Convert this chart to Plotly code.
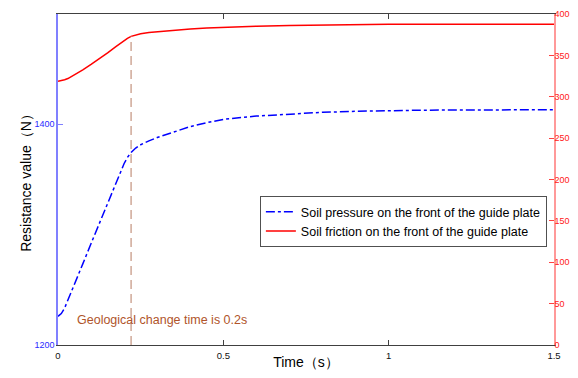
import plotly.graph_objects as go

time_s = [0, 0.01, 0.02, 0.03, 0.05, 0.075, 0.1, 0.125, 0.15, 0.175, 0.19, 0.2, 0.21, 0.221,
          0.235, 0.25, 0.275, 0.3, 0.35, 0.4, 0.45, 0.5, 0.6, 0.7, 0.8, 0.9, 1.0, 1.1, 1.2,
          1.3, 1.4, 1.5]
soil_pressure = [1226, 1228.5, 1233.5, 1240.5, 1255, 1273.5, 1292, 1310.5, 1329, 1347.5, 1358,
                 1364.5, 1370, 1374.5, 1378.5, 1381.5, 1385, 1388, 1393, 1398, 1401.5, 1404.5,
                 1407.5, 1409.5, 1410.9, 1411.8, 1412.5, 1412.8, 1413, 1413.1, 1413.2, 1413.2]
soil_friction = [318.6, 319.2, 320.5, 322, 326.5, 332.5, 339, 345.5, 353, 360.5, 365, 368,
                 370.5, 373, 375, 376.2, 377.5, 378.5, 380.3, 381.8, 383, 384, 385.3, 386.2,
                 386.8, 387.2, 387.5, 387.6, 387.7, 387.7, 387.7, 387.7]
change_time = [0.221, 0.221]
change_line = [0, 373]

x_ticks = [0, 0.5, 1, 1.5]
x_tick_text = ["0", "0.5", "1", "1.5"]
left_ticks = [1200, 1400]
right_ticks = [0, 50, 100, 150, 200, 250, 300, 350, 400]

names = ["Soil pressure on the front of the guide plate",
         "Soil friction on the front of the guide plate"]
annotation_text = "Geological change time is 0.2s"

fig = go.Figure()
fig.add_trace(go.Scatter(x=time_s, y=soil_pressure, name=names[0], mode="lines",
                         line=dict(color="#0000ff", width=1.5, dash="dashdot"), yaxis="y"))
fig.add_trace(go.Scatter(x=time_s, y=soil_friction, name=names[1], mode="lines",
                         line=dict(color="#ff0000", width=1.5), yaxis="y2"))
fig.add_trace(go.Scatter(x=change_time, y=change_line, mode="lines", showlegend=False,
                         line=dict(color="#c4937e", width=1.2, dash="9px,5px"), yaxis="y2"))

font = "Liberation Sans, Arial, sans-serif"
fig.update_layout(
    width=562, height=362,
    margin=dict(l=50, r=16, t=6, b=25, autoexpand=False),
    paper_bgcolor="white", plot_bgcolor="white",
    font=dict(family=font, size=9, color="black"),
    showlegend=True,
    legend=dict(x=0.407, y=0.450, xanchor="left", yanchor="top",
                bordercolor="#505050", borderwidth=1, bgcolor="white",
                font=dict(size=12.5, color="black"), tracegroupgap=0,
                itemwidth=30),
    xaxis=dict(range=[0, 1.5], tickvals=x_ticks, ticktext=x_tick_text,
               ticks="inside", ticklen=5, tickcolor="#404040", automargin=False,
               showline=True, linecolor="#404040", linewidth=1, mirror="ticks",
               showgrid=False, zeroline=False, ticklabeloverflow="allow",
               ticklabelstandoff=2,
               tickfont=dict(size=9.5, color="#111111"),
               title=dict(text="Time（s）", font=dict(size=14, color="black"), standoff=0)),
    yaxis=dict(range=[1200, 1500], tickvals=left_ticks, ticks="inside", ticklen=5,
               tickcolor="#8080ff", showline=True, linecolor="#8080ff", linewidth=1.5,
               showgrid=False, zeroline=False, automargin=False, ticklabeloverflow="allow",
               tickfont=dict(size=9, color="#2a2aff"),
               title=dict(text="Resistance value（N）", font=dict(size=14, color="black"),
                          standoff=0)),
    yaxis2=dict(range=[0, 400], tickvals=right_ticks, overlaying="y", side="right",
                anchor="x", ticks="inside", ticklen=5, tickcolor="#ff4040",
                showline=True, linecolor="#ff9999", linewidth=1.5, automargin=False,
                showgrid=False, zeroline=False, ticklabeloverflow="allow",
                ticklabelstandoff=-3,
                tickfont=dict(size=9, color="#ff2020")),
    yaxis3=dict(range=[1200, 1500], tickvals=left_ticks, overlaying="y", side="right",
                anchor="x", ticks="inside", ticklen=5, tickcolor="#8080ff", automargin=False,
                showline=False, showgrid=False, zeroline=False, showticklabels=False),
    annotations=[dict(x=0.052, y=30, xref="x", yref="y2", text=annotation_text,
                      showarrow=False, xanchor="left", yanchor="middle",
                      font=dict(size=12.5, color="#b0542a", family=font))],
)

fig.write_html("out.html")
